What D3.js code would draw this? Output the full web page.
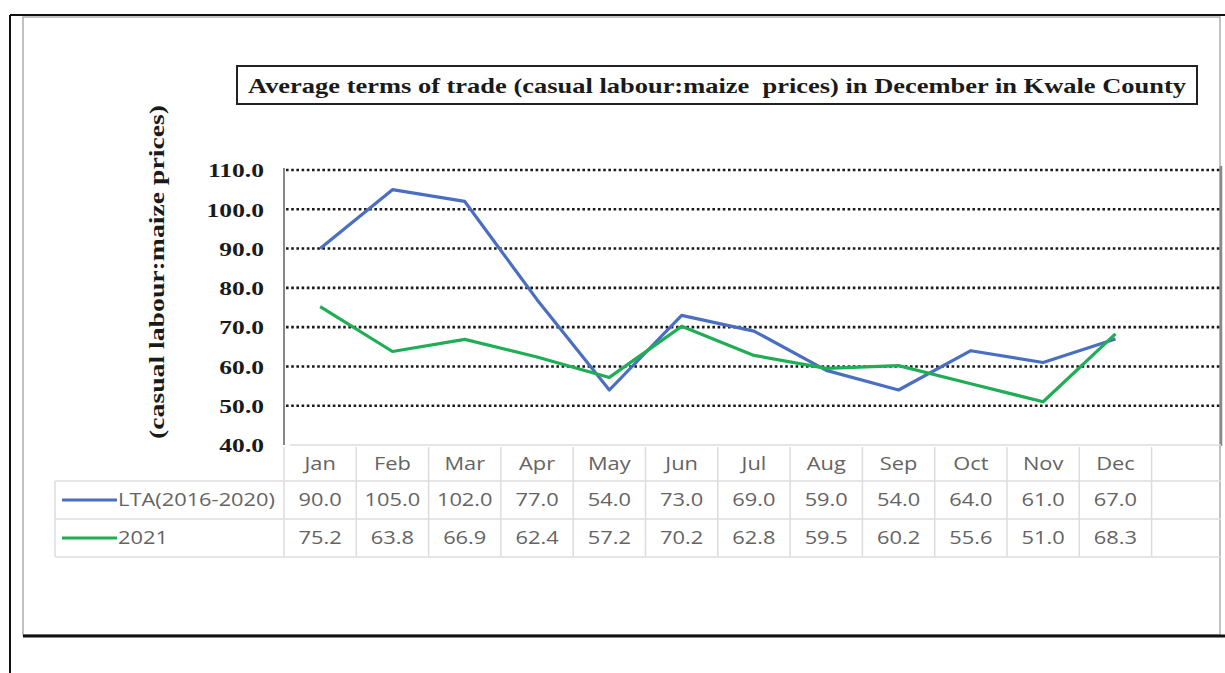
<!DOCTYPE html>
<html><head><meta charset="utf-8">
<script src="https://cdnjs.cloudflare.com/ajax/libs/d3/7.8.5/d3.min.js"></script>
<style>body{margin:0;background:#fff}svg{display:block}</style>
</head><body><svg id="c" width="1225" height="673"></svg>
<script>
const months = ["Jan","Feb","Mar","Apr","May","Jun","Jul","Aug","Sep","Oct","Nov","Dec"];
const lta = [90.0,105.0,102.0,77.0,54.0,73.0,69.0,59.0,54.0,64.0,61.0,67.0];
const y2021 = [75.2,63.8,66.9,62.4,57.2,70.2,62.8,59.5,60.2,55.6,51.0,68.3];
const seriesNames = ["LTA(2016-2020)","2021"];
const yTicks = [40,50,60,70,80,90,100,110];
const titleText = "Average terms of trade (casual labour:maize  prices) in December in Kwale County";
const yTitle = "(casual labour:maize prices)";

const svg = d3.select("#c");
const serif = "'Liberation Serif','Times New Roman',serif";
const sans = "'Open Sans',Lato,sans-serif";
const blue = "#4a6fc0", green = "#1fae55";
const txtCol = "#646464";

function stretch(sel, factor){
  sel.each(function(){ const l=this.getComputedTextLength(); this.setAttribute("textLength", l*factor); this.setAttribute("lengthAdjust","spacingAndGlyphs"); });
}

// frames
svg.append("line").attr("x1",10).attr("x2",10).attr("y1",15).attr("y2",673).attr("stroke","#111").attr("stroke-width",2);
svg.append("line").attr("x1",10).attr("x2",1225).attr("y1",15).attr("y2",15).attr("stroke","#111").attr("stroke-width",2);
svg.append("rect").attr("x",23).attr("y",17).attr("width",1197).attr("height",618).attr("fill","none").attr("stroke","#999").attr("stroke-width",1.2);
svg.append("line").attr("x1",23).attr("x2",1225).attr("y1",636).attr("y2",636).attr("stroke","#111").attr("stroke-width",3);

// scales
const x0 = 284, bw = 72.3;
const x = d3.scaleBand().domain(months).range([x0, x0 + bw*months.length]).padding(0);
const y = d3.scaleLinear().domain([40,110]).range([445,170]);
const xRight = 1221;

// gridlines
svg.append("g").selectAll("line").data(yTicks.filter(t=>t>40)).join("line")
  .attr("x1",x0+2).attr("x2",xRight).attr("y1",d=>y(d)).attr("y2",d=>y(d))
  .attr("stroke","#1a1a1a").attr("stroke-width",2.6).attr("stroke-dasharray","2.6 2.6");

// axes lines
svg.append("line").attr("x1",x0).attr("x2",x0).attr("y1",168).attr("y2",445).attr("stroke","#888").attr("stroke-width",2);
svg.append("line").attr("x1",xRight).attr("x2",xRight).attr("y1",166).attr("y2",446).attr("stroke","#888").attr("stroke-width",2.5);

// y axis labels
const yAxis = d3.axisLeft(y).tickValues(yTicks).tickFormat(d3.format(".1f")).tickSize(0).tickPadding(0);
const ga = svg.append("g").attr("transform",`translate(${x0-20},0)`).call(yAxis);
ga.select(".domain").remove();
const yl = ga.selectAll("text").attr("font-family",serif).attr("font-weight","bold").attr("font-size","19px").attr("fill","#1a1a1a").attr("dy","0.36em");
const l110 = yl.filter(d=>d===110).node().getComputedTextLength();
stretch(yl, 56/l110);

// lines
const line = d3.line().x((d,i)=>x(months[i])+x.bandwidth()/2).y(d=>y(d));
[[lta,blue],[y2021,green]].forEach(([data,col])=>{
  svg.append("path").datum(data).attr("d",line).attr("fill","none").attr("stroke",col).attr("stroke-width",3.2).attr("stroke-linejoin","round");
});

// table
const tg = svg.append("g");
const tableLeft = 55;
const gridCol = "#dcdcdc";
tg.append("line").attr("x1",x0+6).attr("x2",xRight).attr("y1",445).attr("y2",445).attr("stroke",gridCol).attr("stroke-width",1.5);
[481,519,557].forEach(yy=>tg.append("line").attr("x1",tableLeft).attr("x2",xRight).attr("y1",yy).attr("y2",yy).attr("stroke",gridCol).attr("stroke-width",1.5));
const vx = months.map(m=>x(m)).concat([x(months[11])+bw]);
vx.forEach(xx=>tg.append("line").attr("x1",xx).attr("x2",xx).attr("y1",447).attr("y2",557).attr("stroke",gridCol).attr("stroke-width",1.5));
tg.append("line").attr("x1",tableLeft).attr("x2",tableLeft).attr("y1",481).attr("y2",557).attr("stroke",gridCol).attr("stroke-width",1.5);

const texts = [];
texts.push(tg.selectAll("text.m").data(months).join("text").attr("class","m")
  .attr("x",d=>x(d)+bw/2).attr("y",464).attr("dy","0.35em").attr("text-anchor","middle")
  .attr("font-family",sans).attr("font-size","18px").attr("fill",txtCol).text(d=>d));

const rows = [[lta,blue,500,seriesNames[0]],[y2021,green,538,seriesNames[1]]];
let legendTexts = [];
rows.forEach(([data,col,yy,name])=>{
  texts.push(tg.selectAll(null).data(data).join("text")
    .attr("x",(d,i)=>x(months[i])+bw/2).attr("y",yy).attr("dy","0.35em").attr("text-anchor","middle")
    .attr("font-family",sans).attr("font-size","18px").attr("fill",txtCol).text(d=>d3.format(".1f")(d)));
  tg.append("line").attr("x1",62).attr("x2",117).attr("y1",yy).attr("y2",yy).attr("stroke",col).attr("stroke-width",3);
  legendTexts.push(tg.append("text").attr("x",118).attr("y",yy).attr("dy","0.35em").attr("font-family",sans).attr("font-size","18px").attr("fill",txtCol).text(name));
});
const f = 157/legendTexts[0].node().getComputedTextLength();
texts.forEach(s=>stretch(s,f));
legendTexts.forEach(s=>stretch(s,f));

// title
svg.append("rect").attr("x",237).attr("y",66).attr("width",960).attr("height",38).attr("fill","#fff").attr("stroke","#222").attr("stroke-width",2);
svg.append("text").attr("x",717).attr("y",86).attr("dy","0.35em").attr("text-anchor","middle")
  .attr("font-family",serif).attr("font-weight","bold").attr("font-size","21px").attr("fill","#1a1a1a")
  .attr("textLength",938).attr("lengthAdjust","spacingAndGlyphs").style("white-space","pre").text(titleText);

// y title
svg.append("text").attr("transform","translate(157,272) rotate(-90)").attr("text-anchor","middle").attr("dy","0.35em")
  .attr("font-family",serif).attr("font-weight","bold").attr("font-size","21px").attr("fill","#1a1a1a")
  .attr("textLength",334).attr("lengthAdjust","spacingAndGlyphs").text(yTitle);
</script></body></html>
